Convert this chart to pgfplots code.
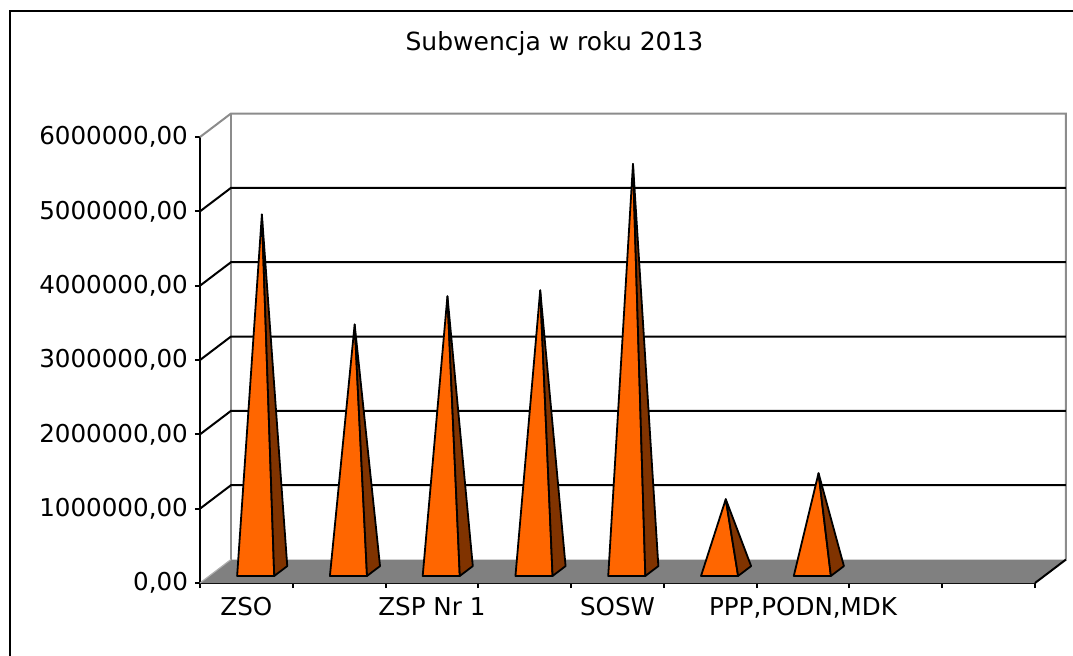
\documentclass[border=0pt]{standalone}
\usepackage{pgfplots}
\pgfplotsset{compat=1.18}
\usepackage{fontspec}
\setmainfont{DejaVu Sans}
\definecolor{pyrfront}{RGB}{255,102,0}
\definecolor{pyrside}{RGB}{128,51,0}
\definecolor{floorgray}{RGB}{128,128,128}
\definecolor{wallgray}{RGB}{140,140,140}

% depth offsets (in data units: categories, millions)
\newcommand\dX{0.334}
\newcommand\dY{0.316}
\newcommand\pyr[2]{% #1 = category centre, #2 = value in millions
  \pgfmathsetmacro\xl{#1-0.2+0.30*\dX}%
  \pgfmathsetmacro\xr{#1+0.2+0.30*\dX}%
  \pgfmathsetmacro\yf{0.30*\dY}%
  \pgfmathsetmacro\xb{#1+0.2+0.72*\dX}%
  \pgfmathsetmacro\yb{0.72*\dY}%
  \pgfmathsetmacro\xa{#1+0.5*\dX}%
  \pgfmathsetmacro\ya{#2+0.5*\dY}%
  \edef\tmp{%
    \noexpand\addplot[draw=black,line width=0.9pt,fill=pyrfront,line join=round] coordinates {(\xl,\yf) (\xr,\yf) (\xa,\ya)} -- cycle;
    \noexpand\addplot[draw=black,line width=0.9pt,fill=pyrside,line join=round] coordinates {(\xr,\yf) (\xb,\yb) (\xa,\ya)} -- cycle;
  }\tmp
}

\begin{document}
\begin{tikzpicture}
\useasboundingbox (0pt,0pt) rectangle (536.5pt,-327.5pt);
\draw[line width=1pt] (5pt,-330pt) -- (5pt,-5.5pt) -- (540pt,-5.5pt);
\node[font=\fontsize{12.5}{15}\selectfont] at (277.25pt,-22pt) {Subwencja w roku 2013};
\begin{axis}[
  at={(100pt,-291.5pt)}, anchor=south west,
  scale only axis, width=417.5pt, height=223pt,
  xmin=0, xmax=9, ymin=0, ymax=6,
  clip=false,
  axis x line=bottom, axis y line=left,
  axis line style={-, line width=1pt, black},
  tick align=outside, major tick length=2.5pt,
  tick style={black, line width=1pt},
  ytick={0,1,2,3,4,5,6},
  yticklabels={{0,00},{1000000,00},{2000000,00},{3000000,00},{4000000,00},{5000000,00},{6000000,00}},
  xtick={0,1,2,3,4,5,6,7,8,9},
  xticklabels={},
  extra x ticks={0.5,2.5,4.5,6.5},
  extra x tick labels={ZSO,ZSP Nr 1,SOSW,{PPP,PODN,MDK}},
  extra x tick style={major tick length=0pt, tick label style={yshift=-3.5pt}},
  tick label style={font=\fontsize{12.3}{14}\selectfont},
]
% back wall top / edges (gray)
\addplot[wallgray, line width=1pt] coordinates {(0.334,0.316) (0.334,6.316)};
\addplot[wallgray, line width=1pt] coordinates {(0,6) (0.334,6.316) (9.334,6.316) (9.334,0.316)};
% gridlines on left and back wall
\addplot[black, line width=1pt] coordinates {(0,1) (0.334,1.316) (9.334,1.316)};
\addplot[black, line width=1pt] coordinates {(0,2) (0.334,2.316) (9.334,2.316)};
\addplot[black, line width=1pt] coordinates {(0,3) (0.334,3.316) (9.334,3.316)};
\addplot[black, line width=1pt] coordinates {(0,4) (0.334,4.316) (9.334,4.316)};
\addplot[black, line width=1pt] coordinates {(0,5) (0.334,5.316) (9.334,5.316)};
% floor
\addplot[draw=none, fill=floorgray] coordinates {(0,0) (0.334,0.316) (9.334,0.316) (9,0)} -- cycle;
\addplot[wallgray!70, line width=0.6pt] coordinates {(0,0) (0.334,0.316)};
\addplot[black, line width=1pt] coordinates {(9,0) (9.334,0.316)};
% pyramids
\pyr{0.5}{4.80}
\pyr{1.5}{3.32}
\pyr{2.5}{3.70}
\pyr{3.5}{3.78}
\pyr{4.5}{5.48}
\pyr{5.5}{0.97}
\pyr{6.5}{1.32}
\end{axis}
\end{tikzpicture}
\end{document}
